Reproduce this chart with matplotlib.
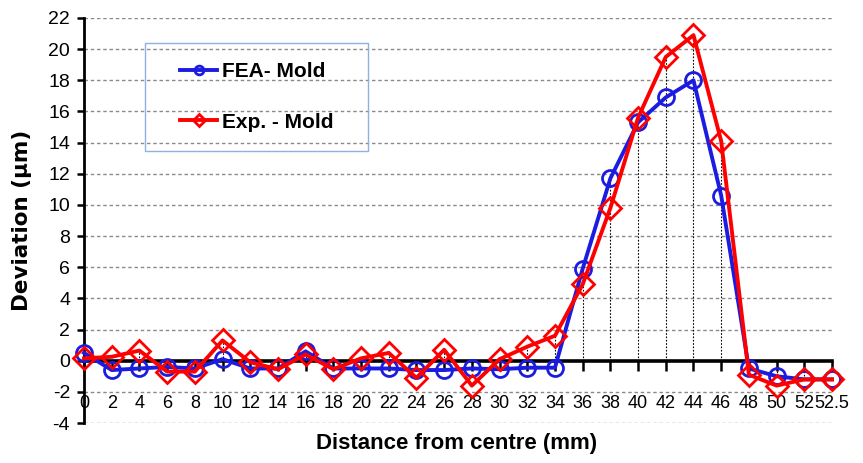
import matplotlib
matplotlib.use("Agg")
import matplotlib.pyplot as plt
from matplotlib.patches import Rectangle
import numpy as np

# Distance from centre (mm) - categorical axis
categories = ["0", "2", "4", "6", "8", "10", "12", "14", "16", "18", "20", "22", "24",
              "26", "28", "30", "32", "34", "36", "38", "40", "42", "44", "46", "48",
              "50", "52", "52.5"]

# Deviation (µm)
fea_mold = [0.5, -0.6, -0.5, -0.4, -0.5, 0.1, -0.5, -0.5, 0.6, -0.5, -0.5, -0.5, -0.6,
            -0.6, -0.5, -0.55, -0.45, -0.45, 5.9, 11.7, 15.3, 16.9, 18.0, 10.6, -0.5,
            -1.0, -1.2, -1.2]
exp_mold = [0.15, 0.25, 0.65, -0.7, -0.7, 1.3, -0.1, -0.55, 0.4, -0.55, 0.15, 0.5, -1.1,
            0.7, -1.6, 0.1, 0.9, 1.6, 4.9, 9.8, 15.6, 19.5, 20.9, 14.1, -0.9,
            -1.6, -1.2, -1.2]

y_ticks = list(range(-4, 23, 2))

BLUE = "#1c1ce0"
RED = "#ff0000"
TICK_FONT = ["Liberation Sans", "DejaVu Sans"]
BOLD_FONT = ["Liberation Sans", "DejaVu Sans"]

W, H = 863, 463
fig = plt.figure(figsize=(W / 100, H / 100), dpi=100)
ax = fig.add_axes([84 / W, 1 - 423 / H, (832 - 84) / W, (423 - 18) / H])

x = np.arange(len(categories))

# horizontal dashed gridlines (skip zero, which is the category axis)
for yv in y_ticks:
    if yv != 0:
        ax.axhline(yv, color="#8a8a8a", lw=1.0, ls=(0, (2.5, 2)), zorder=0)

# drop lines from the highest value in each category to the axis
tops = np.maximum(np.array(fea_mold), np.array(exp_mold))
ax.vlines(x, 0, tops, colors="black", lw=0.8, linestyles=(0, (1.5, 1.5)), zorder=1)

ax.plot(x, fea_mold, color=BLUE, lw=2.8, marker="o", ms=11.5, mfc="none",
        mec=BLUE, mew=2.0, clip_on=False, zorder=3, label="FEA- Mold")
ax.plot(x, exp_mold, color=RED, lw=2.8, marker="D", ms=11, mfc="none",
        mec=RED, mew=2.0, clip_on=False, zorder=4, label="Exp. - Mold")

ax.set_xlim(0, len(categories) - 1)
ax.set_ylim(-4, 22)

# spines: left axis, category axis crossing at zero
for side in ("top", "right"):
    ax.spines[side].set_visible(False)
ax.spines["left"].set_linewidth(2.0)
ax.spines["bottom"].set_position(("data", 0))
ax.spines["bottom"].set_linewidth(2.6)
ax.spines["bottom"].set_zorder(2)

ax.set_xticks(x)
ax.set_xticklabels(categories, fontfamily=TICK_FONT, fontsize=13)
ax.set_yticks(y_ticks)
ax.set_yticklabels([str(v) for v in y_ticks], fontfamily=TICK_FONT, fontsize=14)
ax.tick_params(axis="x", direction="out", length=7, width=1.8, pad=18)
ax.tick_params(axis="y", direction="out", length=5, width=1.8, pad=5)

# axis titles
fig.text(22 / W, 1 - 220 / H, "Deviation (µm)", rotation=90, ha="center",
         va="center", fontsize=15.5, fontweight="bold", family="DejaVu Sans")
fig.text(457 / W, 1 - 443 / H, "Distance from centre (mm)", ha="center",
         va="center", fontsize=16, fontweight="bold", family=BOLD_FONT)

# legend box
x0, x1 = (145 - 84) / 748, (368 - 84) / 748
y0, y1 = (423 - 151) / 405, (423 - 43) / 405
ax.add_patch(Rectangle((x0, y0), x1 - x0, y1 - y0, transform=ax.transAxes,
                       fill=False, edgecolor="#8fb0e0", lw=1.0, zorder=5,
                       clip_on=False))
leg = ax.legend(loc="center", bbox_to_anchor=((x0 + x1) / 2, (y0 + y1) / 2),
                frameon=False, markerscale=0.55, handlelength=1.8,
                handletextpad=0.2, labelspacing=1.5,
                prop={"family": BOLD_FONT, "weight": "bold", "size": 15})

fig.savefig("out.png", dpi=100)
